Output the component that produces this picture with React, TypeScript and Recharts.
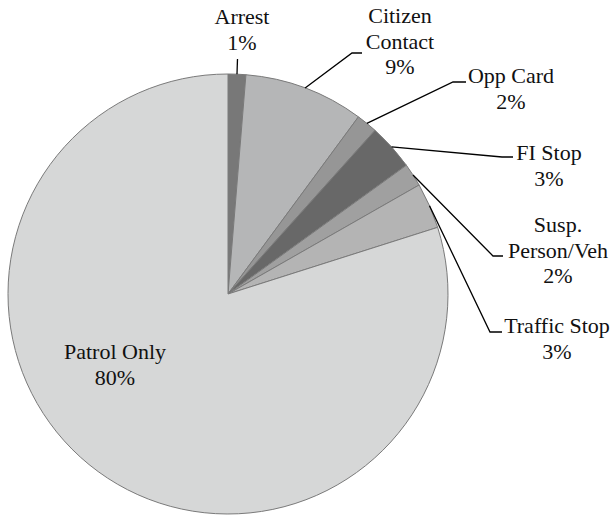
import React from 'react';
import { PieChart, Pie, Cell } from 'recharts';

// categories, clockwise from 12 o'clock
const categories = ['Arrest', 'Citizen Contact', 'Opp Card', 'FI Stop', 'Susp. Person/Veh', 'Traffic Stop', 'Patrol Only'];
const shares = [1.3, 8.8, 1.55, 3.4, 1.7, 3.35, 79.9];
// how each label is broken into lines
const labelLines = [['Arrest'], ['Citizen', 'Contact'], ['Opp Card'], ['FI Stop'], ['Susp.', 'Person/Veh'], ['Traffic Stop'], ['Patrol Only']];

const COLORS = ['#787878', '#b5b6b7', '#969696', '#686868', '#a0a0a0', '#b4b4b4', '#d6d7d7'];

// label placement: text centre x, first baseline y, and leader elbow (null = no leader)
const LABEL_LAYOUT = [
  { tx: 242, ty: 24, elbow: [237.5, 59], tick: 0 },
  { tx: 400, ty: 23, elbow: [352, 53], tick: 10 },
  { tx: 511, ty: 83, elbow: [453, 82], tick: 13 },
  { tx: 549, ty: 160, elbow: [502, 157], tick: 11 },
  { tx: 558, ty: 232, elbow: [493, 256], tick: 10 },
  { tx: 557, ty: 333, elbow: [490, 332], tick: 12 },
  { tx: 115, ty: 359, elbow: null, tick: 0 },
];

const data = categories.map((name, i) => ({ name, value: shares[i] }));
const total = shares.reduce((a, b) => a + b, 0);

const RADIAN = Math.PI / 180;
const LINE_H = 25.7;

const renderLabel = (props: any) => {
  const { cx, cy, midAngle, outerRadius, index, value } = props;
  const layout = LABEL_LAYOUT[index];
  const pct = Math.round((value / total) * 100) + '%';
  const lines = [...labelLines[index], pct];
  const sx = cx + outerRadius * Math.cos(-midAngle * RADIAN);
  const sy = cy + outerRadius * Math.sin(-midAngle * RADIAN);
  return (
    <g key={`label-${index}`}>
      {layout.elbow && (
        <polyline
          points={`${sx},${sy} ${layout.elbow[0]},${layout.elbow[1]} ${layout.elbow[0] + layout.tick},${layout.elbow[1]}`}
          fill="none"
          stroke="#000"
          strokeWidth={1.3}
        />
      )}
      {lines.map((l, j) => (
        <text
          key={j}
          x={layout.tx}
          y={layout.ty + j * LINE_H}
          textAnchor="middle"
          fontFamily="serif"
          fontSize={22}
          fill="#111"
        >
          {l}
        </text>
      ))}
    </g>
  );
};

export default function App() {
  return (
    <div style={{ position: 'absolute', left: 0, top: 0, width: 612, height: 515, background: '#fff' }}>
      <PieChart width={612} height={515} margin={{ top: 0, right: 0, bottom: 0, left: 0 }}>
        <Pie
          data={data}
          dataKey="value"
          nameKey="name"
          cx={228}
          cy={294}
          outerRadius={220}
          startAngle={90}
          endAngle={-270}
          stroke="#7a7a7a"
          strokeWidth={1}
          label={renderLabel}
          labelLine={false}
          isAnimationActive={false}
        >
          {data.map((entry, index) => (
            <Cell key={`cell-${index}`} fill={COLORS[index]} />
          ))}
        </Pie>
      </PieChart>
    </div>
  );
}
